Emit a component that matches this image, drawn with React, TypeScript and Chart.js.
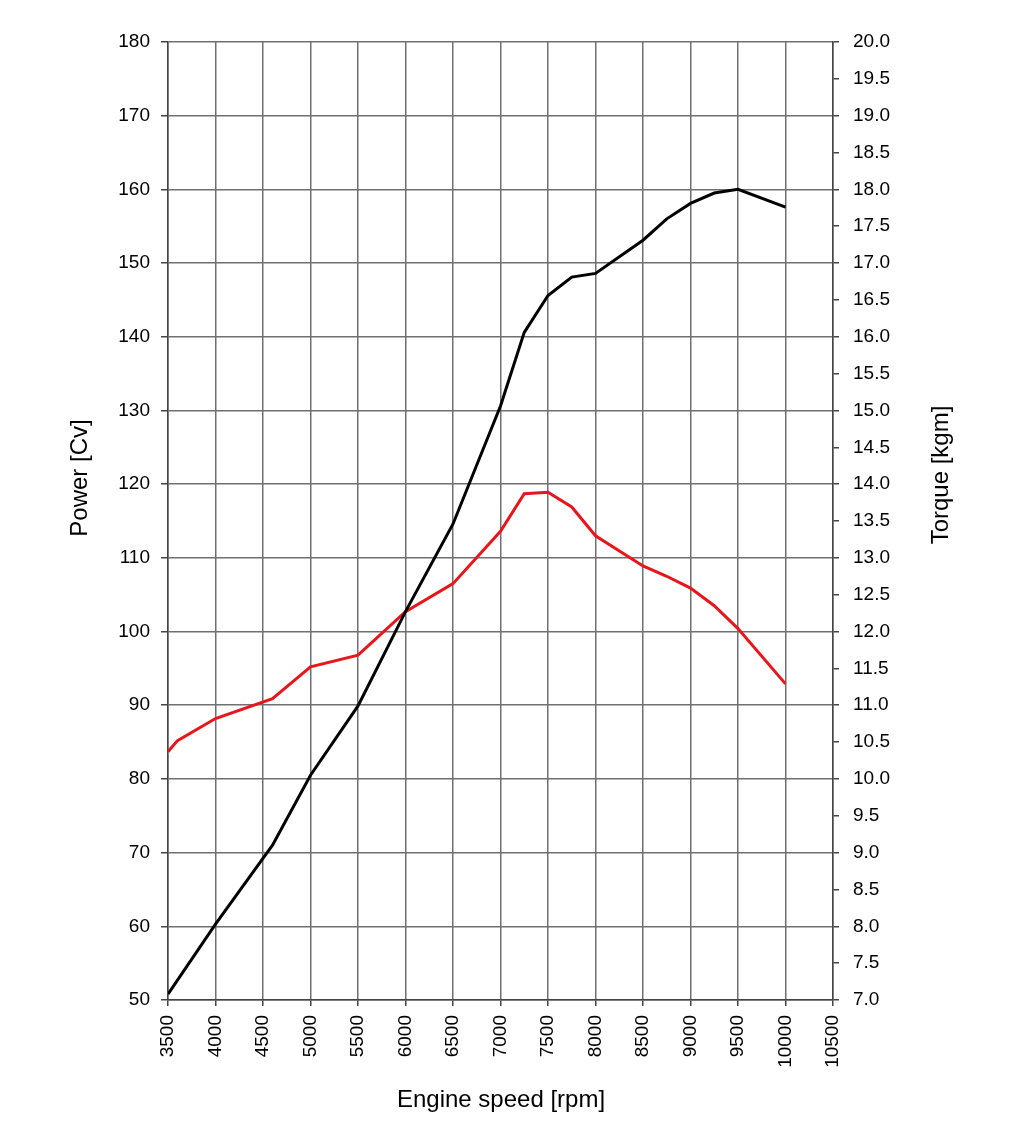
import React, { useEffect, useRef } from "react";
import { Chart, registerables } from "chart.js";

Chart.register(...registerables);

const rpm = [3500, 3600, 4000, 4600, 5000, 5500, 6000, 6500, 7000, 7250, 7500, 7750, 8000, 8500, 8750, 9000, 9250, 9500, 10000];
const powerCv = [50.8, 52.7, 60.3, 71.0, 80.5, 89.9, 102.7, 114.6, 130.6, 140.6, 145.6, 148.1, 148.6, 153.1, 156.0, 158.1, 159.5, 160.0, 157.6];
const torqueKgm = [10.37, 10.52, 10.82, 11.09, 11.52, 11.68, 12.27, 12.65, 13.36, 13.87, 13.89, 13.69, 13.3, 12.89, 12.75, 12.59, 12.35, 12.04, 11.29];

const xTitle = "Engine speed [rpm]";
const yTitle = "Power [Cv]";
const y1Title = "Torque [kgm]";

const FONT = "'Liberation Sans', Arial, sans-serif";

const titlesPlugin = {
  id: "axisTitles",
  afterDraw(chart: any) {
    const ctx = chart.ctx;
    ctx.save();
    ctx.fillStyle = "#000";
    ctx.textAlign = "center";
    ctx.textBaseline = "middle";
    ctx.font = "24px " + FONT;
    ctx.save();
    ctx.translate(80, 478);
    ctx.rotate(-Math.PI / 2);
    ctx.fillText(yTitle, 0, 0);
    ctx.restore();
    ctx.save();
    ctx.translate(941, 475);
    ctx.rotate(-Math.PI / 2);
    ctx.fillText(y1Title, 0, 0);
    ctx.restore();
    ctx.fillText(xTitle, 501, 1100);
    ctx.restore();
  },
};

export default function App() {
  const ref = useRef<HTMLCanvasElement>(null);
  useEffect(() => {
    if (!ref.current) return;
    const gridColor = "#707070";
    const chart = new Chart(ref.current, {
      type: "line",
      data: {
        datasets: [
          {
            label: "Power",
            data: rpm.map((r, i) => ({ x: r, y: powerCv[i] })),
            borderColor: "#000000",
            borderWidth: 3,
            pointRadius: 0,
            tension: 0,
            yAxisID: "y",
          },
          {
            label: "Torque",
            data: rpm.map((r, i) => ({ x: r, y: torqueKgm[i] })),
            borderColor: "#e8161b",
            borderWidth: 3,
            pointRadius: 0,
            tension: 0,
            yAxisID: "y1",
          },
        ],
      },
      options: {
        animation: false,
        responsive: false,
        devicePixelRatio: 1,
        layout: { padding: { top: 42, left: 0, right: 0, bottom: 0 } },
        plugins: { legend: { display: false }, tooltip: { enabled: false } },
        scales: {
          x: {
            type: "linear",
            min: 3500,
            max: 10500,
            afterFit: (s: any) => { s.height = 126; },
            ticks: {
              stepSize: 500,
              minRotation: 90,
              maxRotation: 90,
              padding: 9,
              color: "#000",
              font: { family: FONT, size: 19 },
              callback: (v: any) => String(v),
            },
            grid: { color: gridColor, lineWidth: 1.5, tickLength: 6, tickColor: "#444" },
            border: { color: "#444", width: 1.5 },
          },
          y: {
            position: "left",
            min: 50,
            max: 180,
            afterFit: (s: any) => { s.width = 168; },
            ticks: {
              stepSize: 10,
              padding: 11,
              color: "#000",
              font: { family: FONT, size: 19 },
            },
            grid: { color: gridColor, lineWidth: 1.5, tickLength: 7, tickColor: "#444" },
            border: { color: "#444", width: 1.5 },
          },
          y1: {
            position: "right",
            min: 7,
            max: 20,
            afterFit: (s: any) => { s.width = 191; },
            ticks: {
              stepSize: 0.5,
              padding: 14,
              color: "#000",
              font: { family: FONT, size: 19 },
              callback: (v: any) => Number(v).toFixed(1),
            },
            grid: { drawOnChartArea: false, color: "#444", lineWidth: 1.5, tickLength: 6 },
            border: { color: "#444", width: 1.5 },
          },
        },
      },
      plugins: [titlesPlugin],
    } as any);
    return () => chart.destroy();
  }, []);
  return (
    <div style={{ position: "fixed", left: 0, top: 0, width: 1024, height: 1126, background: "#fff" }}>
      <canvas ref={ref} width={1024} height={1126} style={{ width: 1024, height: 1126, display: "block" }} />
    </div>
  );
}
